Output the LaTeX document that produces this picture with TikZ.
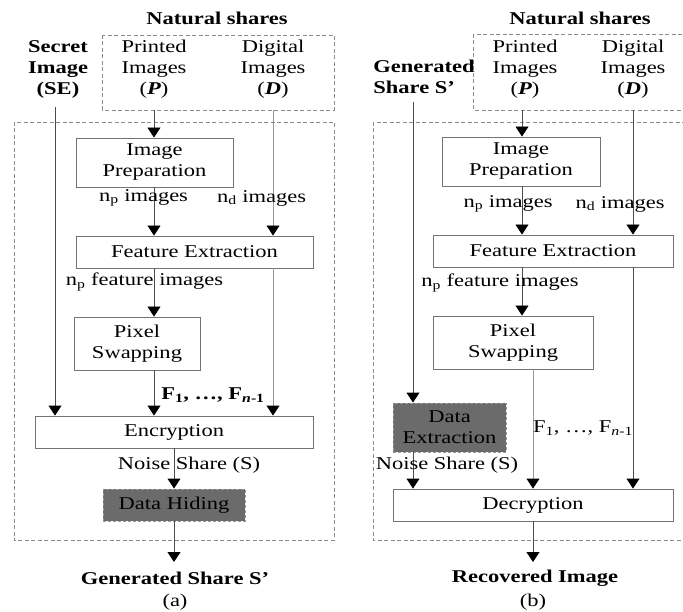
\documentclass[tikz,border=0pt]{standalone}
\usepackage{fontspec}
\setmainfont{Liberation Serif}[FakeStretch=1.25]
\usetikzlibrary{arrows.meta}
\begin{document}
\begin{tikzpicture}[x=1pt, y=-1pt, line width=0.9pt,
    every node/.style={font=\fontsize{18}{21}\selectfont, inner sep=0pt, align=center},
    proc/.style={draw=black!55, fill=white},
    hidden/.style={draw=black!40, fill=black!58, dashed, dash pattern=on 3pt off 2pt},
    region/.style={draw=black!45, dash pattern=on 4pt off 2.5pt},
    flow/.style={draw=black!70, -{Triangle[width=13pt, length=10pt, black]}},
    flowlight/.style={flow, draw=black!40}]
    \useasboundingbox (0,0) rectangle (683,612);
    \clip (0,0) rectangle (683,612);

    % (a) share generation
    \draw[region] (102,35) rectangle (334,110);
    \draw[region] (14,122) rectangle (334,540);
    \node[font=\bfseries\fontsize{18}{21}\selectfont] (natA) at (217,18) {Natural shares};
    \node (prtA) at (154,69) {Printed\\Images\\(\textbf{\textit{P}})};
    \node (digA) at (273,69) {Digital\\Images\\(\textbf{\textit{D}})};
    \node[font=\bfseries\fontsize{18}{21}\selectfont] (secA) at (58,69) {Secret\\Image\\(SE)};
    \coordinate (pA) at (154,110);
    \coordinate (dA) at (273,110);
    \coordinate (sA) at (55,107);

    \node[proc, minimum width=157pt, minimum height=49pt] (prepA) at (154.5,162.5) {Image\\Preparation};
    \node[proc, minimum width=237pt, minimum height=32pt] (featA) at (194.5,252) {Feature Extraction};
    \node[proc, minimum width=126pt, minimum height=53pt] (pixA) at (137,343.5) {Pixel\\Swapping};
    \node[proc, minimum width=278pt, minimum height=32pt] (encA) at (174,432) {Encryption};
    \node[hidden, minimum width=142pt, minimum height=32pt] (hideA) at (174,505) {Data Hiding};
    \node[font=\bfseries\fontsize{18}{21}\selectfont] (outA) at (175,578) {Generated Share S'};
    \node (capA) at (175,602) {(a)};

    \draw[flow] (pA) -- (pA |- prepA.north);
    \draw[flow] (pA |- prepA.south) -- (pA |- featA.north);
    \draw[flow] (pA |- featA.south) -- (pA |- pixA.north);
    \draw[flow] (pA |- pixA.south) -- (pA |- encA.north);
    \draw[flowlight] (dA) -- (dA |- featA.north);
    \draw[flowlight] (dA |- featA.south) -- (dA |- encA.north);
    \draw[flow] (sA) -- (sA |- encA.north);
    \draw[flow] (encA.south -| hideA.north) -- (hideA.north);
    \draw[flow] (hideA.south) -- (hideA.south |- 0,562);

    \node (npA) at (143.5,198) {n\textsubscript{p} images};
    \node (ndA) at (261.5,198) {n\textsubscript{d} images};
    \node (nfA) at (144.5,282) {n\textsubscript{p} feature images};
    \node (fA) at (213,395) {\textbf{F\textsubscript{1}, \dots, F\textsubscript{\textit{n}-1}}};
    \node (nsA) at (189,465) {Noise Share (S)};

    % (b) recovery
    \draw[region] (473,34) rectangle (690,110);
    \draw[region] (373,122) rectangle (690,540);
    \node[font=\bfseries\fontsize{18}{21}\selectfont] (natB) at (580,18) {Natural shares};
    \node (prtB) at (525,69) {Printed\\Images\\(\textbf{\textit{P}})};
    \node (digB) at (633,69) {Digital\\Images\\(\textbf{\textit{D}})};
    \node[font=\bfseries\fontsize{18}{21}\selectfont, anchor=west, align=left] (genB) at (373,77) {Generated\\Share S'};
    \coordinate (pB) at (522,110);
    \coordinate (dB) at (633,110);
    \coordinate (sB) at (413,102);

    \node[proc, minimum width=158pt, minimum height=49pt] (prepB) at (521,161.5) {Image\\Preparation};
    \node[proc, minimum width=240pt, minimum height=32pt] (featB) at (553,251) {Feature Extraction};
    \node[proc, minimum width=160pt, minimum height=53pt] (pixB) at (513,342.5) {Pixel\\Swapping};
    \node[hidden, minimum width=113pt, minimum height=49pt] (extB) at (449.5,427.5) {Data\\Extraction};
    \node[proc, minimum width=280pt, minimum height=32pt] (decB) at (533,505) {Decryption};
    \node[font=\bfseries\fontsize{18}{21}\selectfont] (outB) at (535,578) {Recovered Image};
    \node (capB) at (533,602) {(b)};
    \coordinate (fB) at (533,369);

    \draw[flow] (pB) -- (pB |- prepB.north);
    \draw[flow] (pB |- prepB.south) -- (pB |- featB.north);
    \draw[flow] (pB |- featB.south) -- (pB |- pixB.north);
    \draw[flowlight] (fB) -- (fB |- decB.north);
    \draw[flow] (dB) -- (dB |- featB.north);
    \draw[flow] (dB |- featB.south) -- (dB |- decB.north);
    \draw[flow] (sB) -- (sB |- extB.north);
    \draw[flow] (sB |- extB.south) -- (sB |- decB.north);
    \draw[flow] (decB.south -| fB) -- (fB |- 0,562);

    \node (npB) at (508,204) {n\textsubscript{p} images};
    \node (ndB) at (620,204) {n\textsubscript{d} images};
    \node (nfB) at (500,283) {n\textsubscript{p} feature images};
    \node (fBl) at (583,428) {F\textsubscript{1}, \dots, F\textsubscript{\textit{n}-1}};
    \node (nsB) at (447,465) {Noise Share (S)};
\end{tikzpicture}
\end{document}
